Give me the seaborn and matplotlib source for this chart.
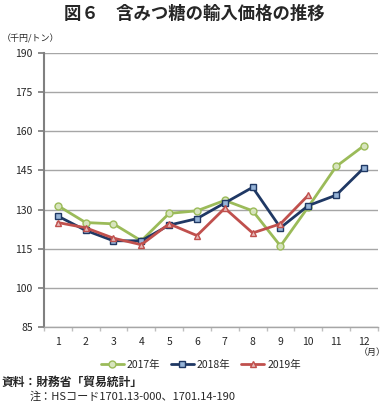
import matplotlib.pyplot as plt
import numpy as np
import pandas as pd
import seaborn as sns

months = list(range(1, 13))
y2017 = [131.5, 125, 124.5, 118, 128.5, 129.5, 133.5, 129.5, 116, 131, 146.5, 154.5]
y2018 = [127.5, 122, 118, 118, 124, 126.5, 132.5, 138.5, 123, 131.5, 135.5, 146]
y2019 = [125, 123, 119, 116.5, 124.5, 120, 130.5, 121, 124.5, 135.5]
yticks = [85, 100, 115, 130, 145, 160, 175, 190]

sns.set_theme(style="white")
plt.rcParams['font.family'] = ['Noto Sans CJK JP', 'DejaVu Sans']

df = pd.concat([
    pd.DataFrame({'month': months, 'value': y2017, 'year': '2017年'}),
    pd.DataFrame({'month': months, 'value': y2018, 'year': '2018年'}),
    pd.DataFrame({'month': months[:len(y2019)], 'value': y2019, 'year': '2019年'}),
])

styles = {
    '2017年': dict(color='#9BBB59', marker='o', mfc='#D7E4BD', mec='#9BBB59'),
    '2018年': dict(color='#1F3864', marker='s', mfc='#95B3D7', mec='#1F3864'),
    '2019年': dict(color='#C0504D', marker='^', mfc='#E6B9B8', mec='#C0504D'),
}

fig = plt.figure(figsize=(3.88, 4.05), dpi=100)
ax = fig.add_axes([0.113, 0.193, 0.861, 0.676])

for yr, st in styles.items():
    d = df[df['year'] == yr]
    sns.lineplot(data=d, x='month', y='value', ax=ax, color=st['color'], lw=2,
                 marker=st['marker'], markersize=5, markerfacecolor=st['mfc'],
                 markeredgecolor=st['mec'], markeredgewidth=1, label=yr)

ax.set_xlim(0.5, 12.5)
ax.set_ylim(85, 190)
ax.set_yticks(yticks)
ax.set_xticks(months)
ax.set_xticks(np.arange(0.5, 13, 1), minor=True)
ax.yaxis.grid(True, color='#A6A6A6', lw=1)
ax.set_axisbelow(True)
ax.set_xlabel('')
ax.set_ylabel('')
for s in ['top', 'right']:
    ax.spines[s].set_visible(False)
ax.spines['left'].set_color('#808080')
ax.spines['left'].set_linewidth(1.5)
ax.spines['bottom'].set_color('#A6A6A6')
ax.spines['bottom'].set_linewidth(1)
ax.tick_params(axis='y', which='major', length=4, color='#808080', labelsize=7.5, pad=4, left=True)
ax.tick_params(axis='x', which='major', length=0, labelsize=7.5, pad=7)
ax.tick_params(axis='x', which='minor', length=3, color='#BFBFBF', bottom=True)

fig.text(0.5, 0.965, '図６　含みつ糖の輸入価格の推移', ha='center', va='center', fontsize=12.5, fontweight='bold')
fig.text(0.005, 0.905, '（千円/トン）', ha='left', va='center', fontsize=6.5)
fig.text(0.995, 0.13, '（月）', ha='right', va='center', fontsize=6.5)

ax.legend(loc='upper center', bbox_to_anchor=(0.47, -0.085), ncol=3, frameon=False,
          fontsize=7.5, handlelength=2.2, handletextpad=0.3, columnspacing=1.0)

fig.text(0.005, 0.055, '資料：財務省「貿易統計」', ha='left', va='center', fontsize=8.5, fontweight='bold')
fig.text(0.075, 0.02, '注：HSコード1701.13-000、1701.14-190', ha='left', va='center', fontsize=8)

fig.savefig('out.png', dpi=100)
